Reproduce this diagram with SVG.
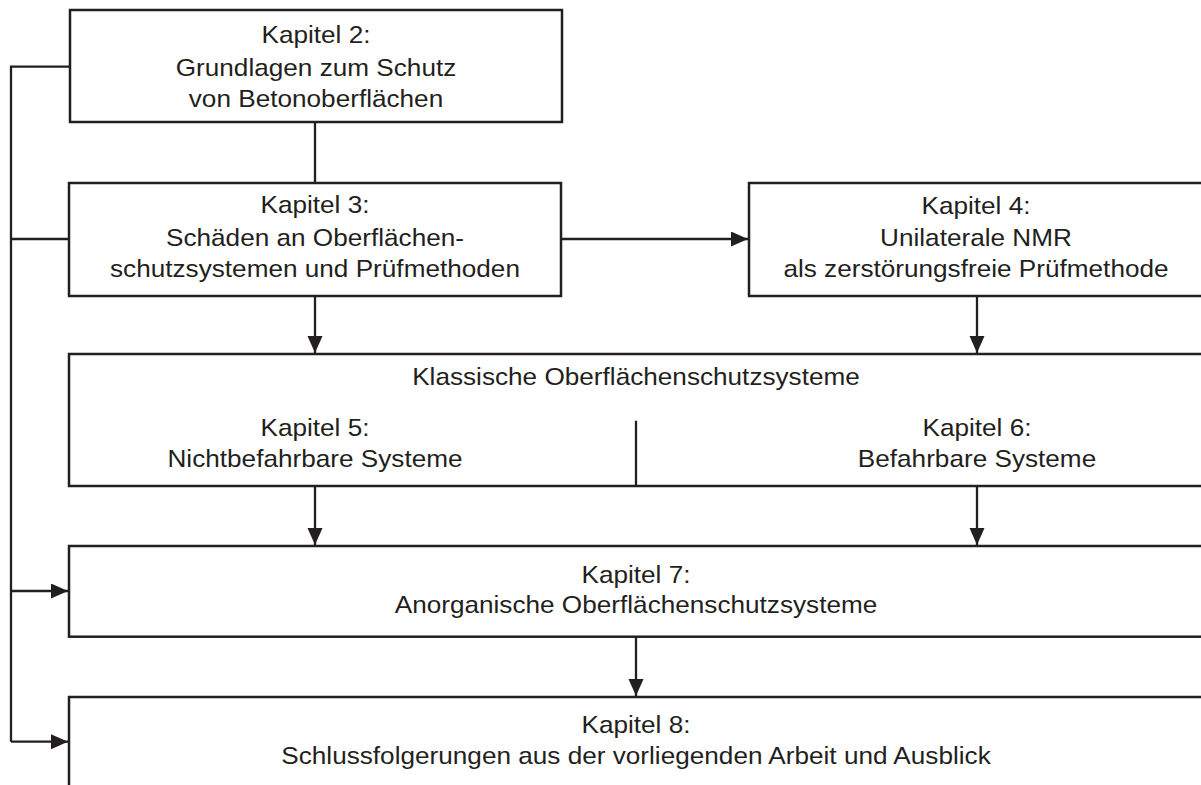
<svg xmlns="http://www.w3.org/2000/svg" width="1201" height="785" viewBox="0 0 1201 785">
<style>
.box{fill:#fff;stroke:#231f20;stroke-width:2.5}
.t{font-family:"Liberation Sans",Arial,Helvetica,sans-serif;font-size:24px;fill:#231f20;text-anchor:middle}
.c{fill:none;stroke:#231f20;stroke-width:2.3}
</style>
<defs>
<marker id="ah" markerUnits="userSpaceOnUse" markerWidth="18" markerHeight="16" refX="17" refY="7.5" orient="auto">
<path d="M0,0 L17,7.5 L0,15 Z" fill="#231f20"/>
</marker>
</defs>
<rect width="1201" height="785" fill="#fff"/>
<g id="connectors">
<polyline class="c" points="70,66.7 11,66.7 11,741.7"/>
<line class="c" x1="11" y1="239" x2="69" y2="239"/>
<line class="c" x1="11" y1="591" x2="68" y2="591" marker-end="url(#ah)"/>
<line class="c" x1="11" y1="741.7" x2="68" y2="741.7" marker-end="url(#ah)"/>
<line class="c" x1="315" y1="122" x2="315" y2="183"/>
<line class="c" x1="561" y1="239" x2="748" y2="239" marker-end="url(#ah)"/>
<line class="c" x1="315" y1="296" x2="315" y2="353" marker-end="url(#ah)"/>
<line class="c" x1="977" y1="296" x2="977" y2="353" marker-end="url(#ah)"/>
<line class="c" x1="315" y1="486" x2="315" y2="545" marker-end="url(#ah)"/>
<line class="c" x1="977" y1="486" x2="977" y2="545" marker-end="url(#ah)"/>
<line class="c" x1="636" y1="637" x2="636" y2="696" marker-end="url(#ah)"/>
</g>
<g id="kapitel2">
<rect class="box" x="70" y="10" width="492" height="112"/>
<g transform="scale(1.09 1)">
<text class="t" x="289.91" y="43.3">Kapitel 2:</text>
<text class="t" x="289.91" y="75.7">Grundlagen zum Schutz</text>
<text class="t" x="289.91" y="106.7">von Betonoberflächen</text>
</g>
</g>
<g id="kapitel3">
<rect class="box" x="69" y="183" width="492" height="113"/>
<g transform="scale(1.09 1)">
<text class="t" x="288.99" y="213.3">Kapitel 3:</text>
<text class="t" x="288.99" y="245.7">Schäden an Oberflächen-</text>
<text class="t" x="288.99" y="276.7">schutzsystemen und Prüfmethoden</text>
</g>
</g>
<g id="kapitel4">
<rect class="box" x="749" y="183" width="470" height="113"/>
<g transform="scale(1.09 1)">
<text class="t" x="895.4" y="214">Kapitel 4:</text>
<text class="t" x="895.4" y="246.5">Unilaterale NMR</text>
<text class="t" x="895.4" y="277.5">als zerstörungsfreie Prüfmethode</text>
</g>
</g>
<g id="klassisch">
<rect class="box" x="69" y="354" width="1150" height="132"/>
<line class="c" x1="636" y1="420.7" x2="636" y2="486"/>
<g transform="scale(1.09 1)">
<text class="t" x="583.49" y="385">Klassische Oberflächenschutzsysteme</text>
</g>
<g id="kapitel5" transform="scale(1.09 1)">
<text class="t" x="288.99" y="435.7">Kapitel 5:</text>
<text class="t" x="288.99" y="466.7">Nichtbefahrbare Systeme</text>
</g>
<g id="kapitel6" transform="scale(1.09 1)">
<text class="t" x="896.33" y="435.7">Kapitel 6:</text>
<text class="t" x="896.33" y="466.7">Befahrbare Systeme</text>
</g>
</g>
<g id="kapitel7">
<rect class="box" x="69" y="546" width="1150" height="90.7"/>
<g transform="scale(1.09 1)">
<text class="t" x="583.49" y="582.7">Kapitel 7:</text>
<text class="t" x="583.49" y="612.7">Anorganische Oberflächenschutzsysteme</text>
</g>
</g>
<g id="kapitel8">
<rect class="box" x="69" y="697" width="1150" height="110"/>
<g transform="scale(1.09 1)">
<text class="t" x="583.49" y="732.7">Kapitel 8:</text>
<text class="t" x="583.49" y="764">Schlussfolgerungen aus der vorliegenden Arbeit und Ausblick</text>
</g>
</g>
</svg>
